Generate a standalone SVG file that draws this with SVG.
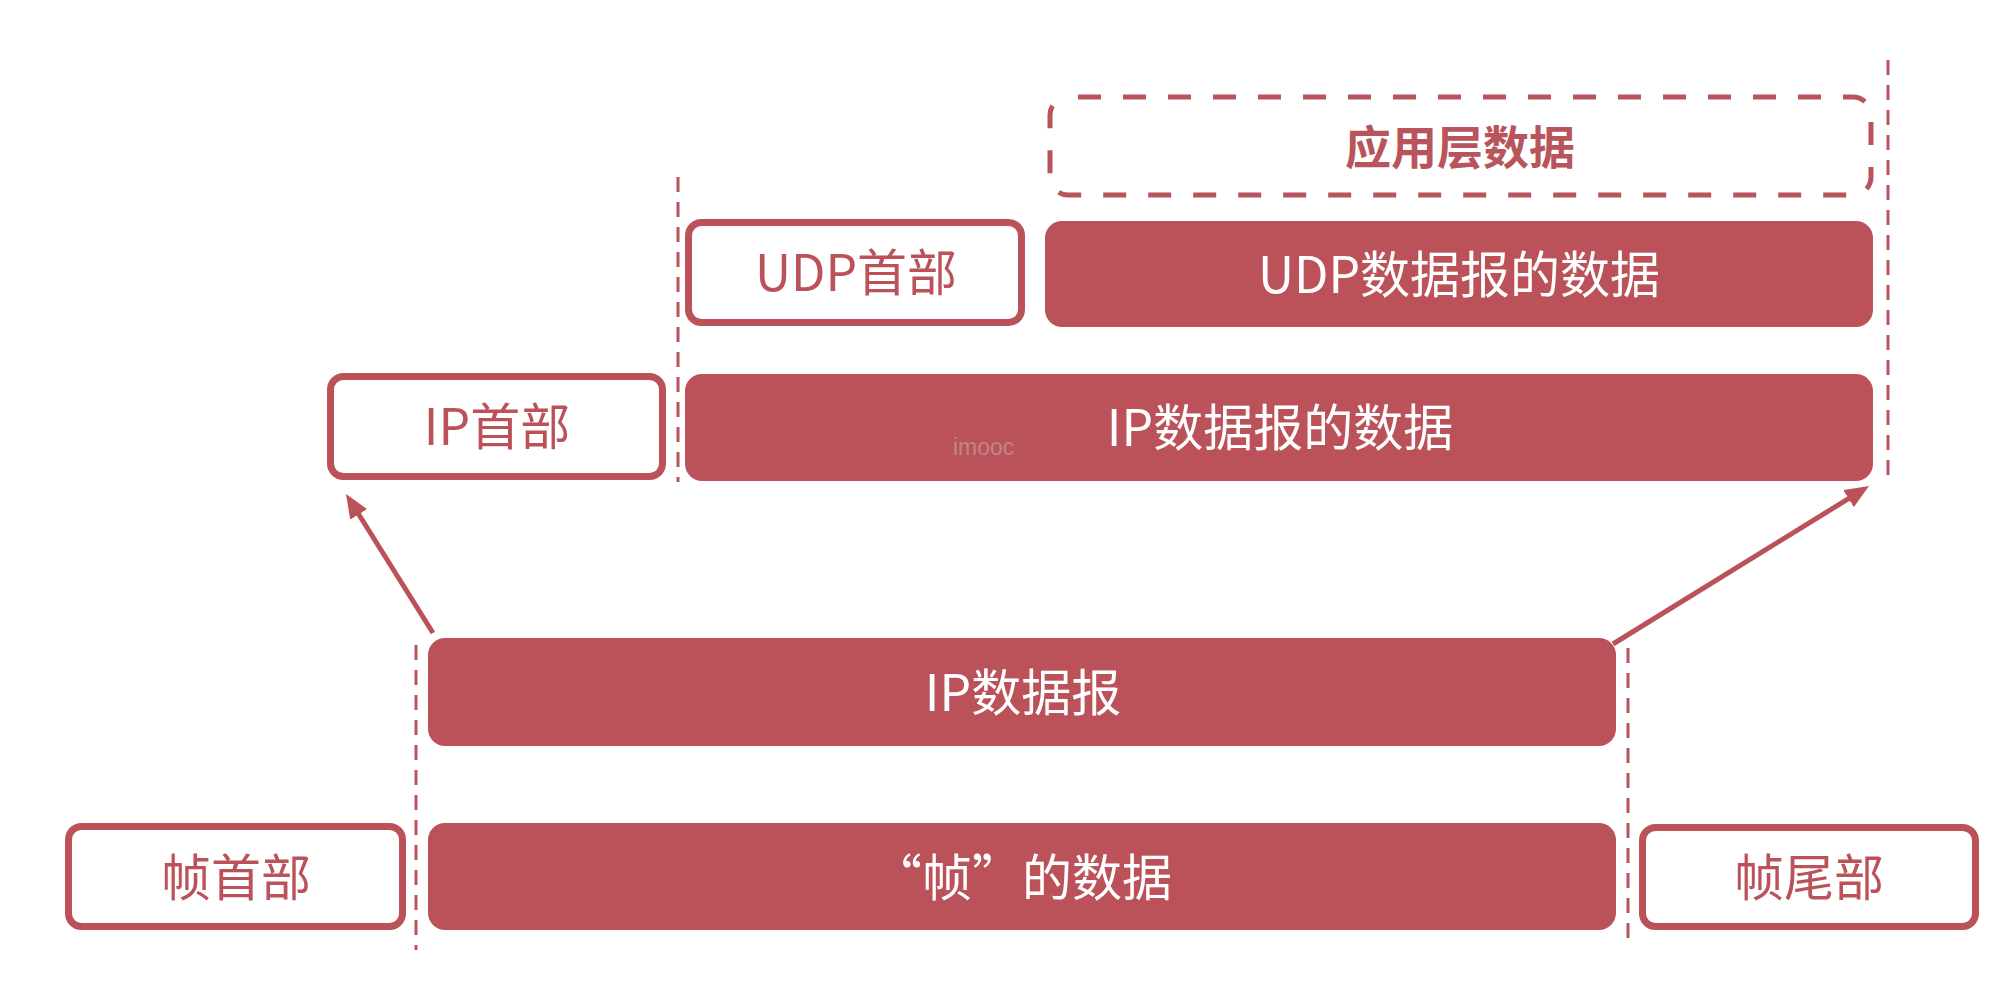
<svg xmlns="http://www.w3.org/2000/svg" width="2008" height="1000" viewBox="0 0 2008 1000">
  <style>
    .fill { fill: #BB5259; }
    .outline { fill: #FFFFFF; stroke: #BB5259; stroke-width: 7; }
    .lbl { font-family: "Noto Sans CJK SC", "Liberation Sans", sans-serif; font-size: 50px; font-weight: normal; text-anchor: middle; }
    .white { fill: #FFFFFF; }
    .red { fill: #BB5259; }
    .guide { stroke: #B8545C; stroke-width: 3; stroke-dasharray: 15 10; fill: none; }
    .arrow { stroke: #BB5259; stroke-width: 5; fill: none; }
  </style>
  <defs>
    <marker id="ah" viewBox="0 0 24 20" refX="1" refY="10" markerWidth="24" markerHeight="20" markerUnits="userSpaceOnUse" orient="auto">
      <path d="M0,0 L24,10 L0,20 z" fill="#BB5259"/>
    </marker>
  </defs>
  <rect width="2008" height="1000" fill="#FFFFFF"/>

  <g id="guides">
    <line class="guide" x1="678" y1="177" x2="678" y2="482"/>
    <line class="guide" x1="1888" y1="60" x2="1888" y2="480"/>
    <line class="guide" x1="416" y1="645" x2="416" y2="950"/>
    <line class="guide" x1="1628" y1="648" x2="1628" y2="941"/>
  </g>

  <g id="app-data">
    <rect x="1050" y="97" width="821" height="98" rx="18" fill="none" stroke="#B8545C" stroke-width="5" stroke-dasharray="23 22" stroke-dashoffset="-10"/>
    <text x="1460" y="164" font-family="'Noto Sans CJK SC', 'Liberation Sans', sans-serif" font-size="46" font-weight="bold" text-anchor="middle" fill="#B8545C">应用层数据</text>
  </g>

  <g id="udp-header">
    <rect class="outline" x="688.5" y="222.5" width="333" height="100" rx="13"/>
    <text class="lbl red" x="856" y="291">UDP首部</text>
  </g>

  <g id="udp-data">
    <rect class="fill" x="1045" y="221" width="828" height="106" rx="17"/>
    <text class="lbl white" x="1459" y="293">UDP数据报的数据</text>
  </g>

  <g id="ip-header">
    <rect class="outline" x="330.5" y="376.5" width="332" height="100" rx="13"/>
    <text class="lbl red" x="497" y="445">IP首部</text>
  </g>

  <g id="ip-data">
    <rect class="fill" x="685" y="374" width="1188" height="107" rx="17"/>
    <text class="lbl white" x="1280" y="446">IP数据报的数据</text>
    <text x="953" y="455" font-family="'Liberation Sans', sans-serif" font-size="23" fill="#C8C8C8" fill-opacity="0.45">imooc</text>
  </g>

  <g id="ip-datagram">
    <rect class="fill" x="428" y="638" width="1188" height="108" rx="17"/>
    <text class="lbl white" x="1023" y="711">IP数据报</text>
  </g>

  <g id="frame-header">
    <rect class="outline" x="68.5" y="826.5" width="334" height="100" rx="13"/>
    <text class="lbl red" x="236" y="896">帧首部</text>
  </g>

  <g id="frame-data">
    <rect class="fill" x="428" y="823" width="1188" height="107" rx="17"/>
    <text class="lbl white" x="1022" y="896">“帧”的数据</text>
  </g>

  <g id="frame-trailer">
    <rect class="outline" x="1642.5" y="827.5" width="333" height="99" rx="13"/>
    <text class="lbl red" x="1809" y="896">帧尾部</text>
  </g>

  <g id="connectors">
    <line class="arrow" x1="433" y1="633" x2="358.2" y2="513.5" marker-end="url(#ah)"/>
    <line class="arrow" x1="1613" y1="644" x2="1849.4" y2="498.1" marker-end="url(#ah)"/>
  </g>
</svg>
